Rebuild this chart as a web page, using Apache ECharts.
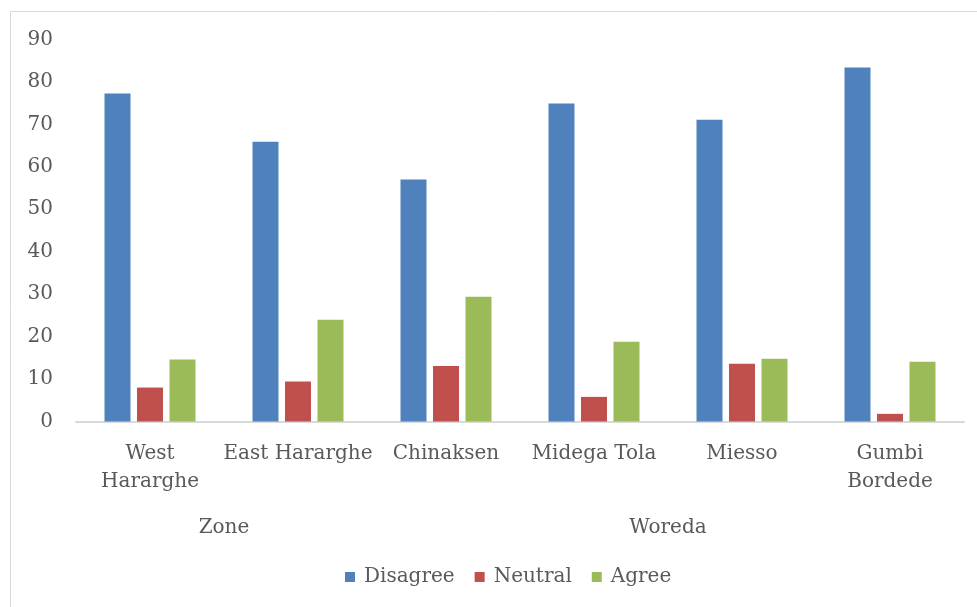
<!DOCTYPE html>
<html>
<head>
<meta charset="utf-8">
<script src="https://cdn.jsdelivr.net/npm/echarts@6/dist/echarts.min.js"></script>
<style>
html,body{margin:0;padding:0;background:#fff;}
#chart{width:977px;height:607px;}
</style>
</head>
<body>
<div id="chart"></div>
<script>
const categories = ['West\nHararghe', 'East Hararghe', 'Chinaksen', 'Midega Tola', 'Miesso', 'Gumbi\nBordede'];
const groups = ['Zone', 'Woreda'];
const groupCenters = [1, 4];
const disagree = [77.3, 65.9, 57.0, 74.9, 71.1, 83.4];
const neutral = [8.0, 9.4, 13.1, 5.8, 13.6, 1.8];
const agree = [14.6, 24.0, 29.4, 18.8, 14.8, 14.1];
const yTicks = [0, 10, 20, 30, 40, 50, 60, 70, 80, 90];

const font = 'DejaVu Serif';
const txt = '#595959';
const chart = echarts.init(document.getElementById('chart'));
chart.setOption({
  animation: false,
  backgroundColor: '#fff',
  graphic: [{
    type: 'rect', silent: true,
    shape: {x: 10.5, y: 11.5, width: 1000, height: 1000},
    style: {fill: 'none', stroke: '#d9d9d9', lineWidth: 1}
  }],
  grid: {left: 76, right: 13, top: 39.5, bottom: 185.5, containLabel: false},
  legend: {
    bottom: 15, left: 340,
    icon: 'rect', itemWidth: 10, itemHeight: 10, itemGap: 20,
    textStyle: {fontFamily: font, fontSize: 20, color: txt, padding: [0, 0, 0, 4]},
    data: ['Disagree', 'Neutral', 'Agree']
  },
  xAxis: [{
    type: 'category', data: categories,
    axisLine: {lineStyle: {color: '#d9d9d9', width: 2}},
    axisTick: {show: false},
    axisLabel: {interval: 0, margin: 18, fontFamily: font, fontSize: 20, color: txt, lineHeight: 28, align: 'center'}
  }, {
    type: 'value', min: 0, max: 6, interval: 1, position: 'bottom',
    axisLine: {show: false}, axisTick: {show: false}, splitLine: {show: false},
    axisLabel: {
      margin: 96, fontFamily: font, fontSize: 20, color: txt, showMinLabel: true, showMaxLabel: true,
      formatter: function (v) { const i = groupCenters.indexOf(v); return i >= 0 ? groups[i] : ''; }
    }
  }],
  yAxis: {
    type: 'value', min: yTicks[0], max: yTicks[yTicks.length - 1], interval: 10,
    axisLine: {show: false}, axisTick: {show: false}, splitLine: {show: false},
    axisLabel: {margin: 23, fontFamily: font, fontSize: 20, color: txt}
  },
  series: [
    {name: 'Disagree', type: 'bar', data: disagree, barWidth: 26, barGap: '25%', itemStyle: {color: '#4F81BD'}},
    {name: 'Neutral', type: 'bar', data: neutral, barWidth: 26, barGap: '25%', itemStyle: {color: '#C0504D'}},
    {name: 'Agree', type: 'bar', data: agree, barWidth: 26, barGap: '25%', itemStyle: {color: '#9BBB59'}}
  ]
});
</script>
</body>
</html>
